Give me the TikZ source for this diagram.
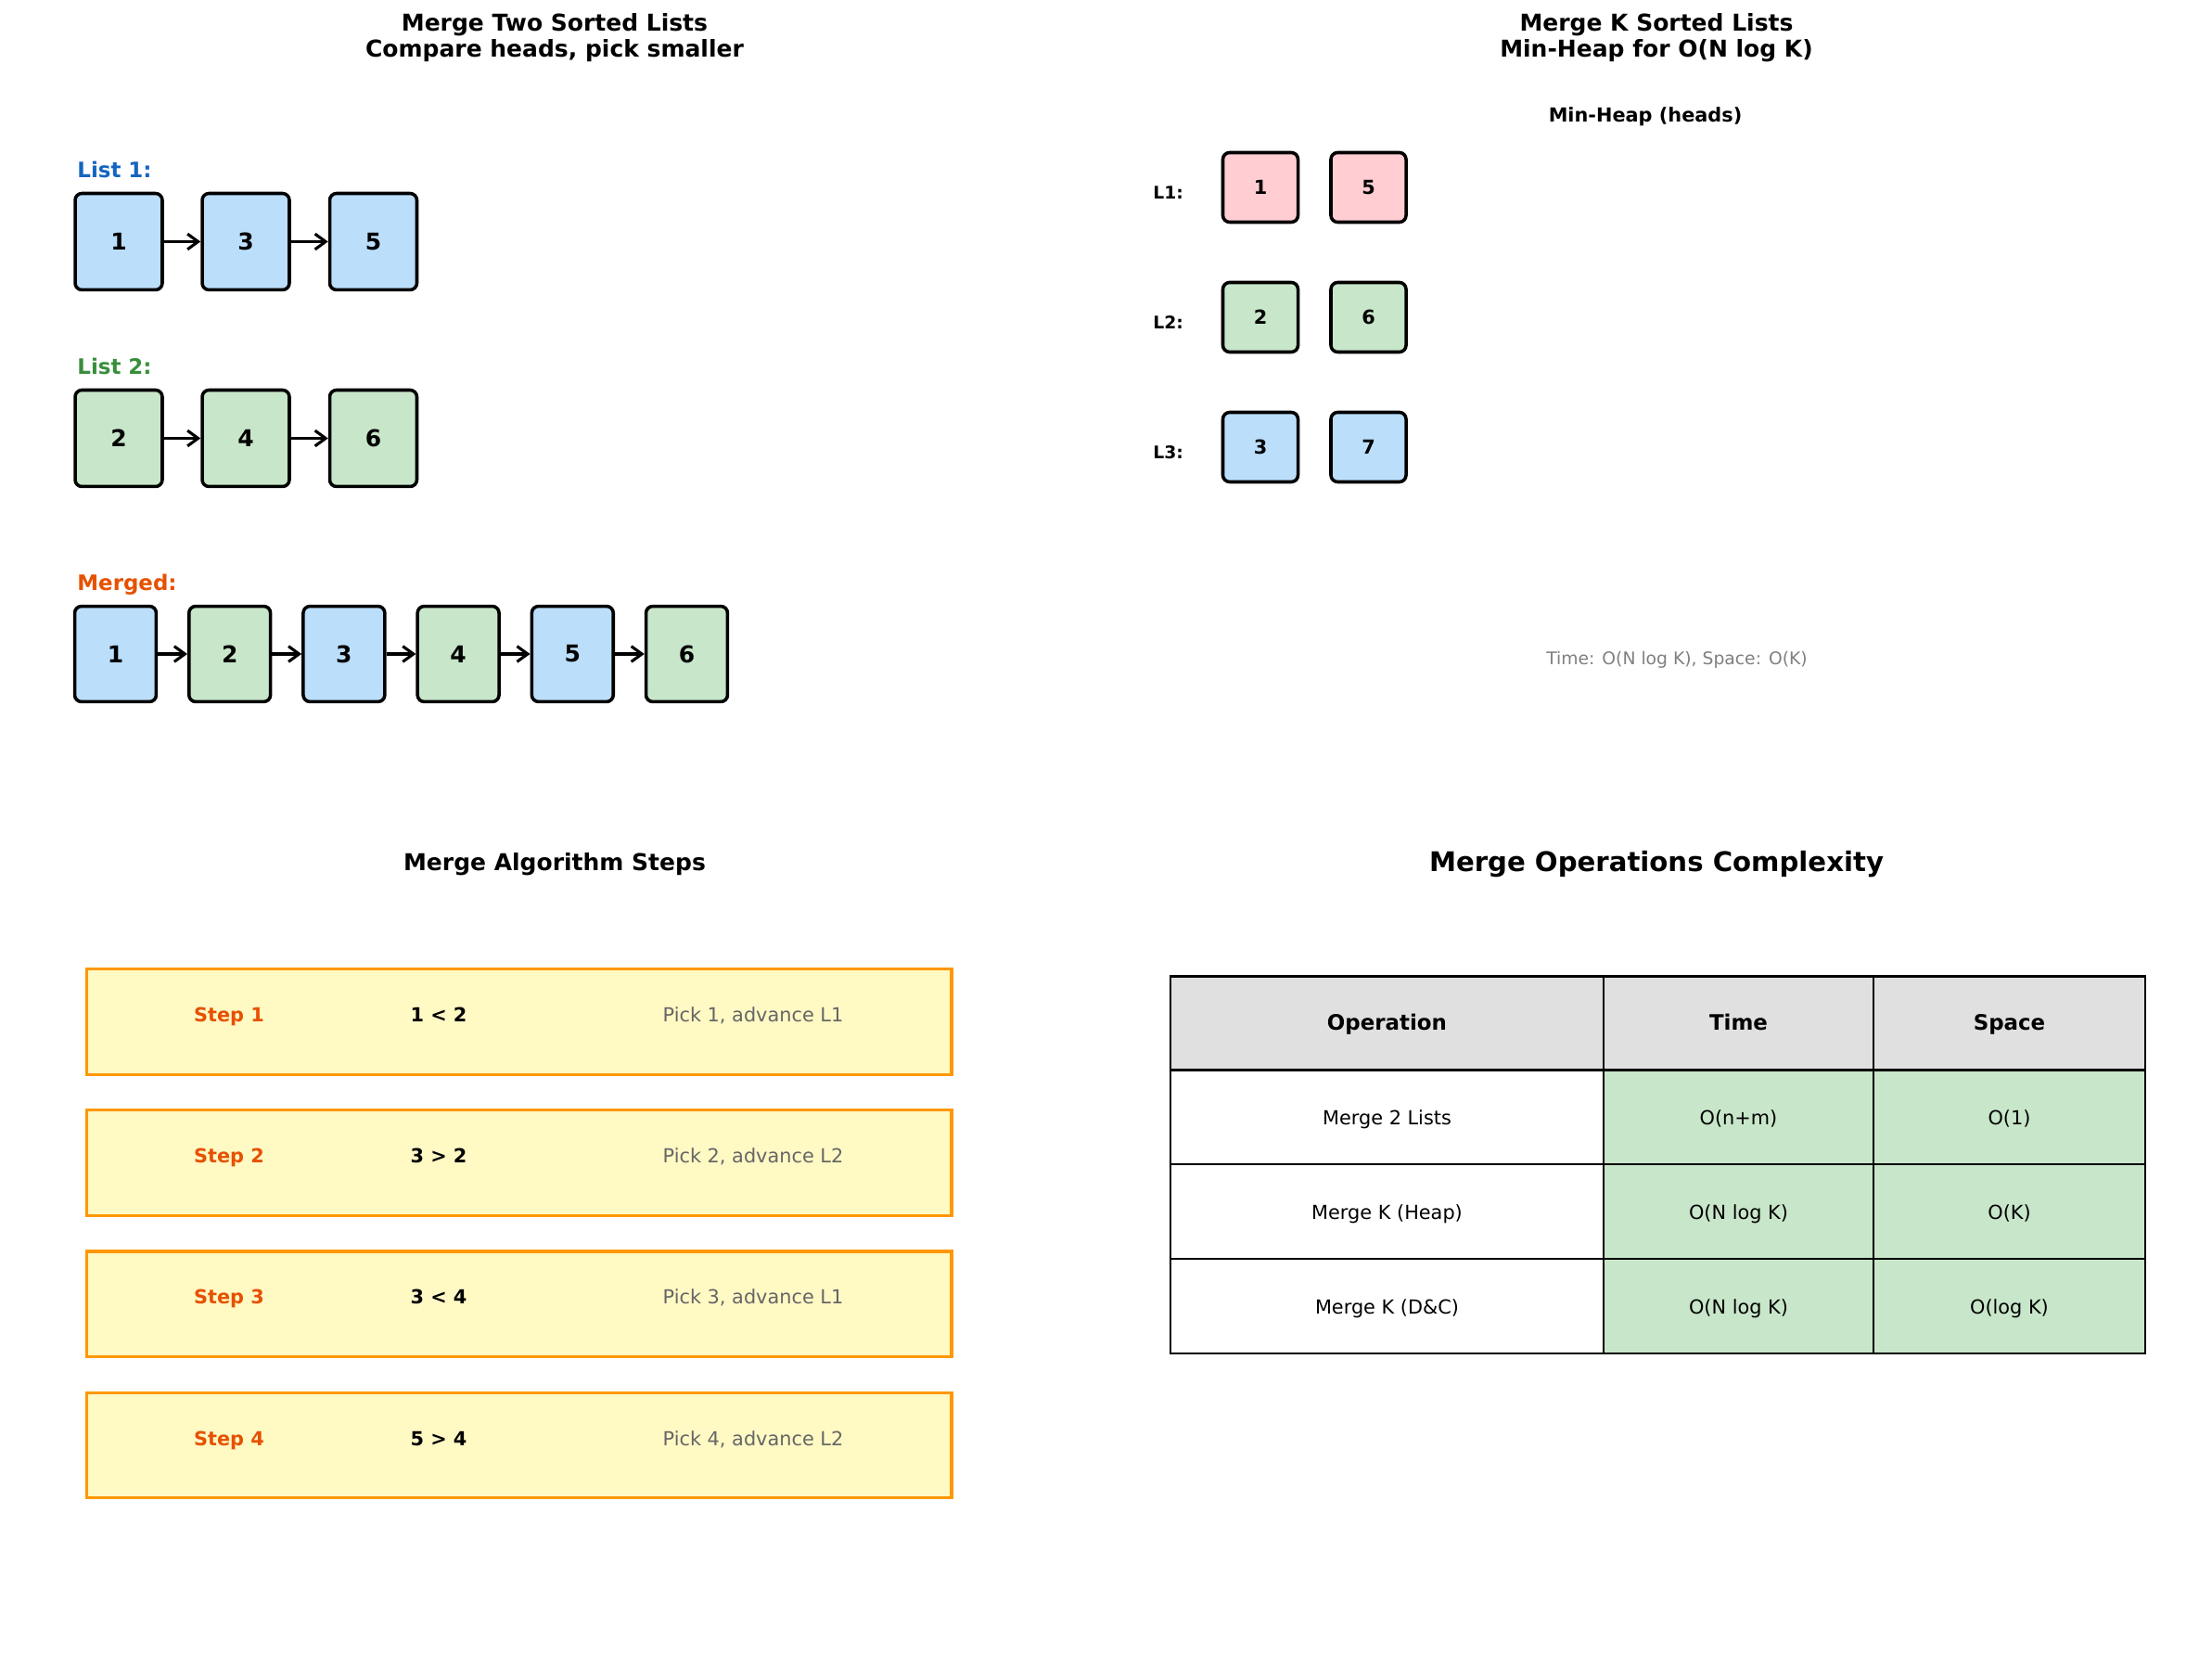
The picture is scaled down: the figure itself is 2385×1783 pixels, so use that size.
\documentclass[tikz,border=0pt]{standalone}
\usepackage{fontspec}
\setmainfont{DejaVu Sans}
\usetikzlibrary{arrows.meta}

\begin{document}
\begin{tikzpicture}[x=0.48pt,y=-0.48pt,
  cellbox/.style={draw=black,line width=1.7pt,rounded corners=3.5pt,inner sep=0pt},
  listbox/.style={cellbox,minimum width=45.1pt,minimum height=49.9pt,font=\bfseries\fontsize{12}{14}\selectfont},
  mergebox/.style={cellbox,minimum width=42.2pt,minimum height=49.4pt,font=\bfseries\fontsize{12}{14}\selectfont},
  heapbox/.style={cellbox,minimum width=38.9pt,minimum height=36pt,font=\bfseries\fontsize{10}{12}\selectfont},
  nextptr/.style={-{Straight Barb[length=5.5pt,width=8pt]},line width=1.5pt},
  paneltitle/.style={anchor=base,inner sep=0pt,font=\bfseries\fontsize{12}{14}\selectfont},
  listlabel/.style={anchor=base west,inner sep=0pt,font=\bfseries\fontsize{11}{13}\selectfont},
  heaplabel/.style={anchor=base west,inner sep=0pt,font=\bfseries\fontsize{9}{11}\selectfont},
  stepbox/.style={draw=stepEdge,fill=stepFill,line width=1.5pt,inner sep=0pt,minimum width=447.4pt,minimum height=54.6pt},
  stepname/.style={anchor=base,inner sep=0pt,text=mergeOrange,font=\bfseries\fontsize{10}{12}\selectfont},
  stepcmp/.style={anchor=base,inner sep=0pt,font=\bfseries\fontsize{10}{12}\selectfont},
  stepnote/.style={anchor=base,inner sep=0pt,text=noteGray,font=\fontsize{10}{12}\selectfont},
  headcell/.style={anchor=base,inner sep=0pt,font=\bfseries\fontsize{11}{13}\selectfont},
  datacell/.style={anchor=base,inner sep=0pt,font=\fontsize{10}{12}\selectfont}]
\definecolor{fillColor}{RGB}{255,255,255}
\path[use as bounding box,fill=fillColor] (0,0) rectangle (2385,1783);
\definecolor{listBlue}{RGB}{21,101,192}
\definecolor{listGreen}{RGB}{56,142,60}
\definecolor{mergeOrange}{RGB}{230,81,0}
\definecolor{boxBlue}{RGB}{187,222,251}
\definecolor{boxGreen}{RGB}{200,230,201}
\definecolor{boxPink}{RGB}{255,205,210}
\definecolor{stepFill}{RGB}{255,249,196}
\definecolor{stepEdge}{RGB}{255,152,0}
\definecolor{headGray}{RGB}{224,224,224}
\definecolor{noteGray}{RGB}{102,102,102}
\definecolor{timeGray}{RGB}{128,128,128}

\begin{scope}
\node[paneltitle] (twoTitleA) at (598,34.0) {Merge Two Sorted Lists};
\node[paneltitle] (twoTitleB) at (598,61.6) {Compare heads, pick smaller};

\node[listlabel,text=listBlue] (labA) at (83,191.7) {List 1:};
\node[listbox,fill=boxBlue] (a1) at (128.0,260.5) {1};
\node[listbox,fill=boxBlue] (a2) at (265.0,260.5) {3};
\node[listbox,fill=boxBlue] (a3) at (402.5,260.5) {5};
\draw[nextptr] (a1) -- (a2);
\draw[nextptr] (a2) -- (a3);

\node[listlabel,text=listGreen] (labB) at (83,404.0) {List 2:};
\node[listbox,fill=boxGreen] (b1) at (128.0,472.5) {2};
\node[listbox,fill=boxGreen] (b2) at (265.0,472.5) {4};
\node[listbox,fill=boxGreen] (b3) at (402.5,472.5) {6};
\draw[nextptr] (b1) -- (b2);
\draw[nextptr] (b2) -- (b3);

\node[listlabel,text=mergeOrange] (labM) at (83,636.5) {Merged:};
\node[mergebox,fill=boxBlue] (m1) at (124.5,705.0) {1};
\node[mergebox,fill=boxGreen] (m2) at (247.7,705.0) {2};
\node[mergebox,fill=boxBlue] (m3) at (370.9,705.0) {3};
\node[mergebox,fill=boxGreen] (m4) at (494.1,705.0) {4};
\node[mergebox,fill=boxBlue] (m5) at (617.3,705.0) {5};
\node[mergebox,fill=boxGreen] (m6) at (740.5,705.0) {6};
\draw[nextptr] (m1) -- (m2);
\draw[nextptr] (m2) -- (m3);
\draw[nextptr] (m3) -- (m4);
\draw[nextptr] (m4) -- (m5);
\draw[nextptr] (m5) -- (m6);
\end{scope}

\begin{scope}
\node[paneltitle] (kTitleA) at (1786,34.0) {Merge K Sorted Lists};
\node[paneltitle] (kTitleB) at (1786,61.6) {Min-Heap for O(N log K)};
\node[inner sep=0pt,font=\bfseries\fontsize{10}{12}\selectfont] (heapHead) at (1774,126) {Min-Heap (heads)};

\node[heaplabel] (k1) at (1243,215) {L1:};
\node[heapbox,fill=boxPink] (h11) at (1359.0,202) {1};
\node[heapbox,fill=boxPink] (h12) at (1475.5,202) {5};

\node[heaplabel] (k2) at (1243,355) {L2:};
\node[heapbox,fill=boxGreen] (h21) at (1359.0,342) {2};
\node[heapbox,fill=boxGreen] (h22) at (1475.5,342) {6};

\node[heaplabel] (k3) at (1243,495) {L3:};
\node[heapbox,fill=boxBlue] (h31) at (1359.0,482) {3};
\node[heapbox,fill=boxBlue] (h32) at (1475.5,482) {7};

\node[anchor=base,inner sep=0pt,text=timeGray,font=\fontsize{9}{11}\selectfont] (cost) at (1808,716.7) {Time: O(N log K), Space: O(K)};
\end{scope}

\begin{scope}
\node[paneltitle] (stepTitle) at (598,938) {Merge Algorithm Steps};

\node[stepbox] (s1) at (559.9,1101.7) {};
\node[stepname] (s1n) at (247,1101.7) {Step 1};
\node[stepcmp] (s1c) at (473,1101.7) {1 < 2};
\node[stepnote] (s1p) at (812,1101.7) {Pick 1, advance L1};

\node[stepbox] (s2) at (559.9,1253.8) {};
\node[stepname] (s2n) at (247,1253.8) {Step 2};
\node[stepcmp] (s2c) at (473,1253.8) {3 > 2};
\node[stepnote] (s2p) at (812,1253.8) {Pick 2, advance L2};

\node[stepbox] (s3) at (559.9,1405.9) {};
\node[stepname] (s3n) at (247,1405.9) {Step 3};
\node[stepcmp] (s3c) at (473,1405.9) {3 < 4};
\node[stepnote] (s3p) at (812,1405.9) {Pick 3, advance L1};

\node[stepbox] (s4) at (559.9,1558.0) {};
\node[stepname] (s4n) at (247,1558.0) {Step 4};
\node[stepcmp] (s4c) at (473,1558.0) {5 > 4};
\node[stepnote] (s4p) at (812,1558.0) {Pick 4, advance L2};
\end{scope}

\begin{scope}
\node[anchor=base,inner sep=0pt,font=\bfseries\fontsize{14}{16}\selectfont] (tabTitle) at (1786,939) {Merge Operations Complexity};

\path[draw=black,line width=1pt,fill=white] (1262,1153.3) rectangle (1729,1255.1);
\path[draw=black,line width=1pt,fill=boxGreen] (1729,1153.3) rectangle (2020,1255.1);
\path[draw=black,line width=1pt,fill=boxGreen] (2020,1153.3) rectangle (2313,1255.1);
\path[draw=black,line width=1pt,fill=white] (1262,1255.1) rectangle (1729,1357.2);
\path[draw=black,line width=1pt,fill=boxGreen] (1729,1255.1) rectangle (2020,1357.2);
\path[draw=black,line width=1pt,fill=boxGreen] (2020,1255.1) rectangle (2313,1357.2);
\path[draw=black,line width=1pt,fill=white] (1262,1357.2) rectangle (1729,1459.3);
\path[draw=black,line width=1pt,fill=boxGreen] (1729,1357.2) rectangle (2020,1459.3);
\path[draw=black,line width=1pt,fill=boxGreen] (2020,1357.2) rectangle (2313,1459.3);

\path[draw=black,line width=1.3pt,fill=headGray] (1262,1052.3) rectangle (1729,1153.3);
\path[draw=black,line width=1.3pt,fill=headGray] (1729,1052.3) rectangle (2020,1153.3);
\path[draw=black,line width=1.3pt,fill=headGray] (2020,1052.3) rectangle (2313,1153.3);

\node[headcell] (hOp) at (1495.5,1110.7) {Operation};
\node[headcell] (hTime) at (1874.5,1110.7) {Time};
\node[headcell] (hSpace) at (2166.5,1110.7) {Space};

\node[datacell] (r1Op) at (1495.5,1212.3) {Merge 2 Lists};
\node[datacell] (r1Time) at (1874.5,1212.3) {O(n+m)};
\node[datacell] (r1Space) at (2166.5,1212.3) {O(1)};

\node[datacell] (r2Op) at (1495.5,1314.3) {Merge K (Heap)};
\node[datacell] (r2Time) at (1874.5,1314.3) {O(N log K)};
\node[datacell] (r2Space) at (2166.5,1314.3) {O(K)};

\node[datacell] (r3Op) at (1495.5,1416.4) {Merge K (D\&C)};
\node[datacell] (r3Time) at (1874.5,1416.4) {O(N log K)};
\node[datacell] (r3Space) at (2166.5,1416.4) {O(log K)};
\end{scope}
\end{tikzpicture}
\end{document}
